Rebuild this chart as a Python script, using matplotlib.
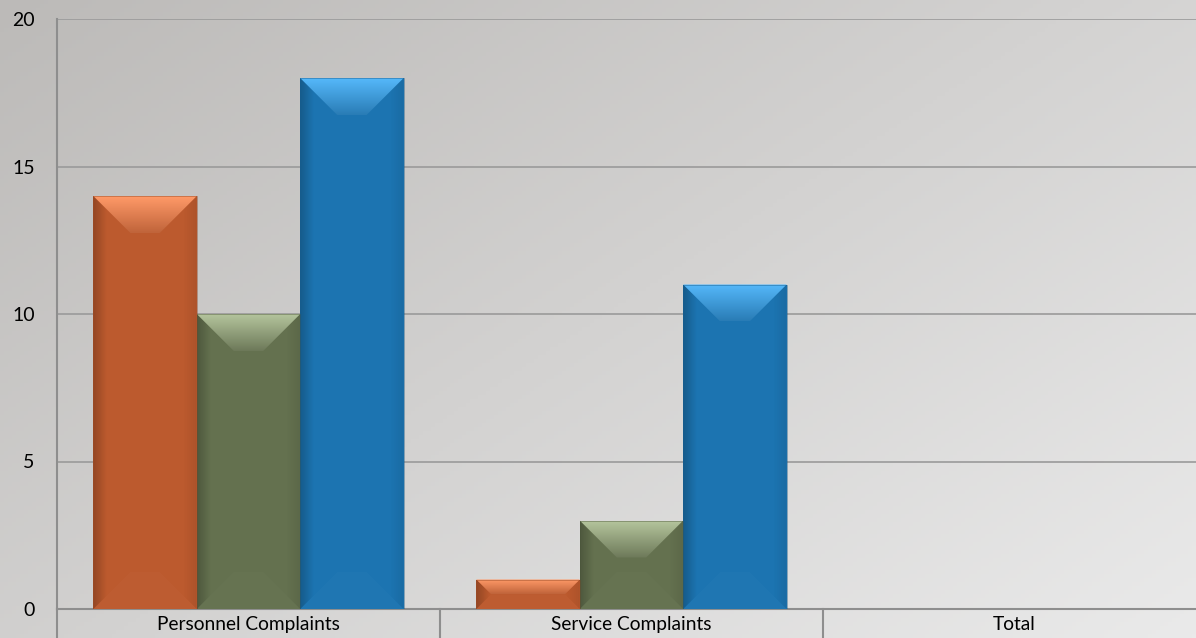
import numpy as np
import matplotlib.pyplot as plt
from matplotlib.patches import Polygon
from matplotlib.colors import to_rgb

# data
categories = ["Personnel Complaints", "Service Complaints", "Total"]
series_a = [14, 1, 0]
series_b = [10, 3, 0]
series_c = [18, 11, 0]
y_ticks = [0, 5, 10, 15, 20]

body_colors = ["#BC5A2E", "#64714F", "#1C74B1"]
top_colors = ["#FF9A68", "#B4C49C", "#55B8FA"]

plt.rcParams['font.family'] = ['Lato', 'DejaVu Sans']

fig = plt.figure(figsize=(11.96, 6.38), dpi=100)

# gradient background (darker top-left, lighter bottom-right)
bg = fig.add_axes([0, 0, 1, 1], zorder=-5)
gx, gy = np.meshgrid(np.linspace(0, 1, 300), np.linspace(0, 1, 160))
g = (gx * 0.55 + gy * 0.45)
c0 = np.array([188, 186, 184]) / 255
c1 = np.array([234, 234, 234]) / 255
img = c0[None, None, :] * (1 - g[..., None]) + c1[None, None, :] * g[..., None]
bg.imshow(img, aspect='auto', extent=[0, 1, 0, 1], origin='upper')
bg.axis('off')

# plot area runs a bit past the right edge of the picture
ax = fig.add_axes([57 / 1196, 1 - 609 / 638, (1206 - 57) / 1196, (609 - 19) / 638])
ax.set_facecolor('none')
ax.set_xlim(-0.5, 2.5)
ax.set_ylim(0, 20)

x = np.arange(len(categories))
w = 0.27
groups = [ax.bar(x - w, series_a, w, color=body_colors[0], zorder=3),
          ax.bar(x, series_b, w, color=body_colors[1], zorder=3),
          ax.bar(x + w, series_c, w, color=body_colors[2], zorder=3)]

# pixel scale of the data coordinates
p0 = ax.transData.transform((0, 0))
p1 = ax.transData.transform((1, 1))
sx, sy = p1[0] - p0[0], p1[1] - p0[1]


def shade(c, f):
    c = np.array(to_rgb(c))
    if f < 0:
        return tuple(c * (1 + f))
    return tuple(c + (1 - c) * f)


def grad_fill(poly, extent, rgba_start, rgba_end, horizontal=False):
    t = np.linspace(0, 1, 50)
    cs = np.array(rgba_start)
    ce = np.array(rgba_end)
    arr = cs[None, :] * (1 - t[:, None]) + ce[None, :] * t[:, None]
    if horizontal:
        arr = arr[None, :, :]
    else:
        arr = arr[:, None, :]
    im = ax.imshow(arr, extent=extent, aspect='auto', origin='upper',
                   zorder=poly.get_zorder(), interpolation='bilinear')
    im.set_clip_path(poly)


for k, bars in enumerate(groups):
    for b in bars:
        h = b.get_height()
        if h <= 0:
            continue
        x0, bw = b.get_x(), b.get_width()
        bp = min(37, bw * sx / 2 - 1, h * sy / 2)
        dx, dy = bp / sx, bp / sy
        x1, y1 = x0 + bw, h
        sd = min(dx, 14 / sx)
        # left face: soft dark edge
        left = Polygon([(x0, 0), (x0, y1), (x0 + sd, y1 - sd * sx / sy), (x0 + sd, sd * sx / sy)],
                       closed=True, facecolor='none', lw=0, zorder=4)
        ax.add_patch(left)
        grad_fill(left, [x0, x0 + sd, 0, y1], (0, 0, 0, 0.22), (0, 0, 0, 0.0), horizontal=True)
        # right face: very faint
        right = Polygon([(x1, 0), (x1, y1), (x1 - sd, y1 - sd * sx / sy), (x1 - sd, sd * sx / sy)],
                        closed=True, facecolor='none', lw=0, zorder=4)
        ax.add_patch(right)
        grad_fill(right, [x1 - sd, x1, 0, y1], (0, 0, 0, 0.0), (0, 0, 0, 0.08), horizontal=True)
        # bottom face: barely visible
        ax.add_patch(Polygon([(x0, 0), (x1, 0), (x1 - dx, dy), (x0 + dx, dy)],
                             closed=True, color='white', alpha=0.015, lw=0, zorder=4))
        # top face with gradient
        top = Polygon([(x0, y1), (x1, y1), (x1 - dx, y1 - dy), (x0 + dx, y1 - dy)],
                      closed=True, facecolor='none', lw=0, zorder=5)
        ax.add_patch(top)
        ct = tuple(to_rgb(top_colors[k])) + (1.0,)
        cb = tuple(shade(body_colors[k], 0.06)) + (1.0,)
        grad_fill(top, [x0, x1, y1 - dy, y1], ct, cb)
        # thin outline
        ax.add_patch(Polygon([(x0, 0), (x0, y1), (x1, y1), (x1, 0)], closed=True,
                             fill=False, edgecolor=shade(body_colors[k], -0.25),
                             lw=0.6, alpha=0.5, zorder=6))

ax.set_xlim(-0.5, 2.5)
ax.set_ylim(0, 20)

ax.set_yticks(y_ticks)
ax.set_yticklabels([str(v) for v in y_ticks], fontsize=14)
ax.tick_params(axis='y', length=0, pad=16)
ax.yaxis.grid(True, color='#9A9A9A', lw=1.2, zorder=1)
ax.set_axisbelow(True)

ax.set_xticks([])
for s in ['top', 'right']:
    ax.spines[s].set_visible(False)
ax.spines['left'].set_color('#8E8E8E')
ax.spines['left'].set_linewidth(1.5)
ax.spines['bottom'].set_color('#8E8E8E')
ax.spines['bottom'].set_linewidth(1.5)

# category boxes below the axis
yb = -29 / 590
for i in range(len(categories) + 1):
    ax.plot([i / 3, i / 3], [0, yb - 0.05], transform=ax.transAxes,
            color='#8E8E8E', lw=1.5, clip_on=False, zorder=2)
for i, cat in enumerate(categories):
    ax.text(i, -0.52, cat, ha='center', va='center', fontsize=13.8, clip_on=False)

fig.savefig("out.png", dpi=100)
